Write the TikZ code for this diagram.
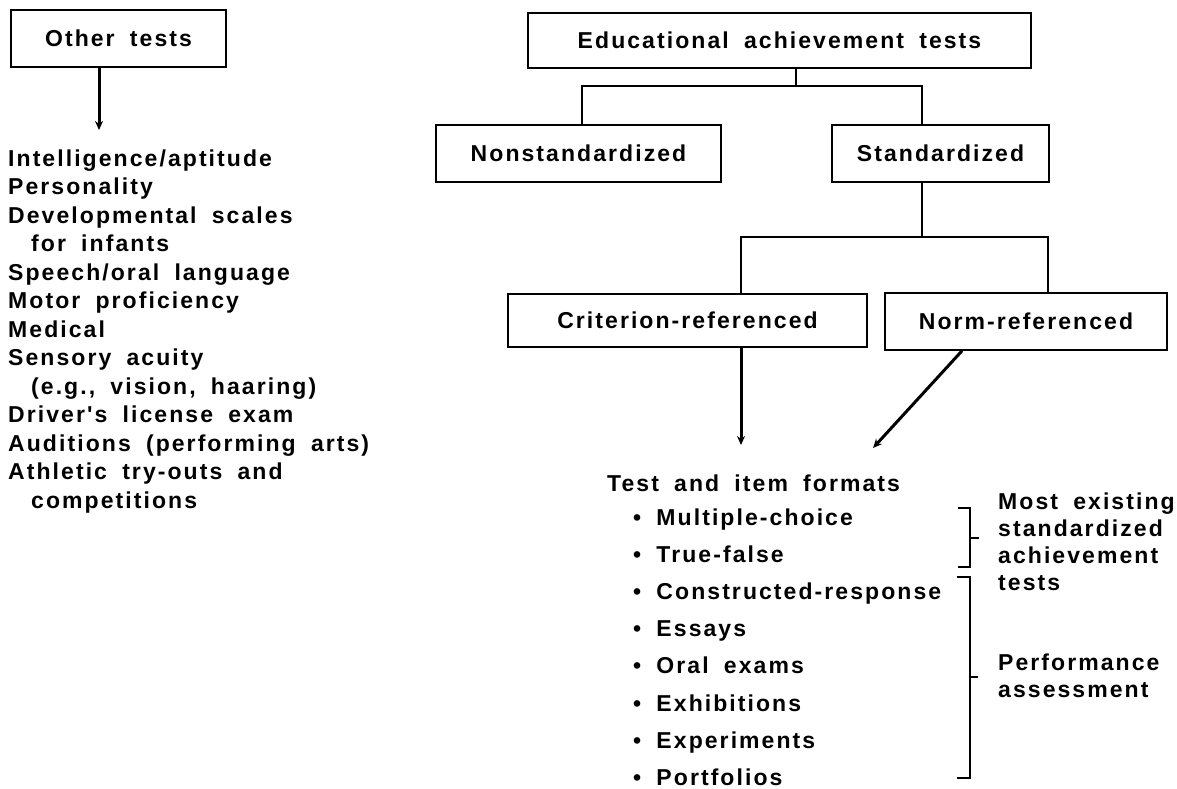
\documentclass[tikz,border=0pt]{standalone}
\usepackage{fontspec}
\newfontfamily\hv{Liberation Sans}[LetterSpace=9,WordSpace=1.8]
\usetikzlibrary{arrows.meta,calc}
\begin{document}
\begin{tikzpicture}[x=1pt,y=-1pt,
  every node/.style={font=\hv\bfseries\fontsize{23}{28}\selectfont, inner sep=0pt, text height=16.5pt, text depth=0pt},
  box/.style={draw, line width=1.6pt, align=center},
  conn/.style={line width=1.6pt},
  arr/.style={line width=3pt, -{Stealth[length=9pt,width=8pt]}},
  brk/.style={line width=1.2pt},
  txt/.style={anchor=west}]
\useasboundingbox (0,0) rectangle (1177,789);

% boxes
\node[box, minimum width=215pt, minimum height=57pt] (other) at (118.5,38.5) {Other tests};
\node[box, minimum width=503pt, minimum height=55pt] (edu) at (779.5,40.5) {Educational achievement tests};
\node[box, minimum width=285pt, minimum height=57pt] (nonstd) at (578.5,153.5) {Nonstandardized};
\node[box, minimum width=217pt, minimum height=57pt] (std) at (940.5,153.5) {Standardized};
\node[box, minimum width=359pt, minimum height=53pt] (crit) at (687.5,320.5) {Criterion-referenced};
\node[box, minimum width=282pt, minimum height=57pt] (norm) at (1026,321.5) {Norm-referenced};

% tree connectors
\coordinate (j1) at (796,86);
\coordinate (a) at (582,86);
\coordinate (b) at (922,86);
\draw[conn] (edu.south -| j1) -- (j1);
\draw[conn] (nonstd.north -| a) -- (a) -- (b) -- (std.north -| b);
\coordinate (e) at (922,237);
\coordinate (c) at (741,237);
\coordinate (d) at (1048,237);
\draw[conn] (std.south -| e) -- (e);
\draw[conn] (crit.north -| c) -- (c) -- (d) -- (norm.north -| d);

% arrows
\coordinate (t1) at (99,130);
\draw[arr] (other.south -| t1) -- (t1);
\coordinate (t2) at (741,445);
\draw[arr] (crit.south -| t2) -- (t2);
\coordinate (t3) at (873,448);
\draw[arr] ($(norm.south)+(-64,0)$) -- (t3);

% left list
\node[txt] (l1) at (8,158) {Intelligence/aptitude};
\node[txt] (l2) at (8,186.5) {Personality};
\node[txt] (l3) at (8,215) {Developmental scales};
\node[txt] (l4) at (31,243.5) {for infants};
\node[txt] (l5) at (8,272) {Speech/oral language};
\node[txt] (l6) at (8,300.5) {Motor proficiency};
\node[txt] (l7) at (8,329) {Medical};
\node[txt] (l8) at (8,357.5) {Sensory acuity};
\node[txt] (l9) at (31,386) {(e.g., vision, haaring)};
\node[txt] (l10) at (8,414.5) {Driver's license exam};
\node[txt] (l11) at (8,443) {Auditions (performing arts)};
\node[txt] (l12) at (8,471.5) {Athletic try-outs and};
\node[txt] (l13) at (31,500) {competitions};

% formats list
\node[txt] (fmt) at (607,483) {Test and item formats};
\node[txt] (f1) at (633,517) {\textbullet\ Multiple-choice};
\node[txt] (f2) at (633,554) {\textbullet\ True-false};
\node[txt] (f3) at (633,591) {\textbullet\ Constructed-response};
\node[txt] (f4) at (633,628) {\textbullet\ Essays};
\node[txt] (f5) at (633,665) {\textbullet\ Oral exams};
\node[txt] (f6) at (633,703) {\textbullet\ Exhibitions};
\node[txt] (f7) at (633,740) {\textbullet\ Experiments};
\node[txt] (f8) at (633,777) {\textbullet\ Portfolios};

% brackets
\draw[brk] (958,508) -- (970,508) -- (970,567) -- (958,567);
\draw[brk] (970,538) -- (979,538);
\draw[brk] (957,577) -- (970,577) -- (970,778) -- (957,778);
\draw[brk] (970,677) -- (978,677);

% bracket labels
\node[txt] (m1) at (998,501) {Most existing};
\node[txt] (m2) at (998,528) {standardized};
\node[txt] (m3) at (998,555) {achievement};
\node[txt] (m4) at (998,582) {tests};
\node[txt] (p1) at (998,662) {Performance};
\node[txt] (p2) at (998,689) {assessment};
\end{tikzpicture}
\end{document}
